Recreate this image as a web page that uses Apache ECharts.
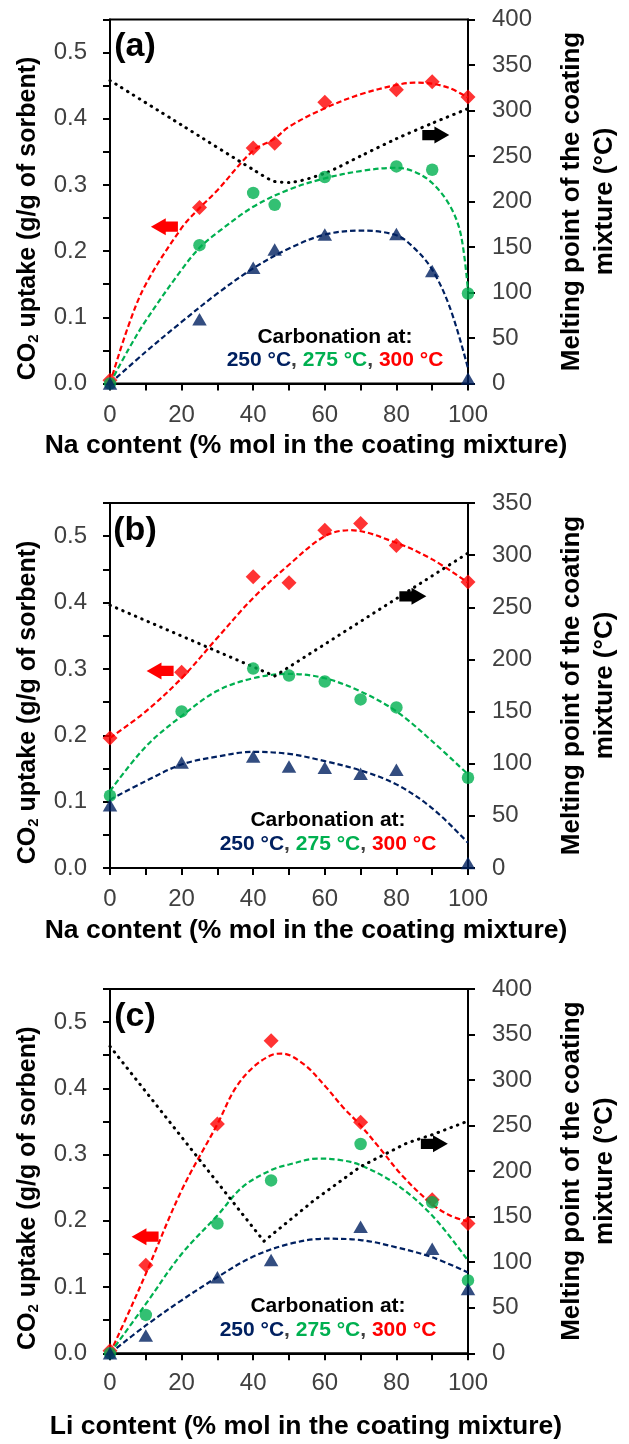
<!DOCTYPE html>
<html>
<head>
<meta charset="utf-8">
<script src="https://cdn.jsdelivr.net/npm/echarts@6/dist/echarts.min.js"></script>
<style>
html,body{margin:0;padding:0;background:#fff;}
#chart{width:629px;height:1444px;}
</style>
</head>
<body>
<div id="chart"></div>
<script>
// ---------- data ----------
// Panel (a): K–Na mixture
const xA = [0, 25, 40, 46, 60, 80, 90, 100];
const a300 = [0.005, 0.266, 0.356, 0.363, 0.425, 0.444, 0.456, 0.433];
const a275 = [0.0, 0.209, 0.288, 0.270, 0.312, 0.328, 0.323, 0.136];
const a250 = [0.0, 0.097, 0.175, 0.2025, 0.225, 0.226, 0.170, 0.0076];
const trA300x = [0, 5, 10, 20, 25, 30, 40, 46, 50, 60, 70, 80, 85, 90, 95, 100];
const trA300 = [0.0, 0.085, 0.150, 0.235, 0.265, 0.292, 0.352, 0.370, 0.388, 0.416, 0.437, 0.451, 0.4545, 0.453, 0.446, 0.432];
const trA275x = [0, 5, 10, 20, 25, 30, 40, 50, 60, 70, 80, 85, 90, 95, 98, 100];
const trA275 = [0.0, 0.05, 0.095, 0.172, 0.205, 0.228, 0.267, 0.293, 0.310, 0.321, 0.326, 0.320, 0.303, 0.268, 0.225, 0.14];
const trA250x = [0, 10, 20, 30, 40, 50, 60, 70, 80, 85, 90, 95, 100];
const trA250 = [0.0, 0.048, 0.093, 0.136, 0.174, 0.204, 0.225, 0.231, 0.224, 0.2045, 0.172, 0.114, 0.023];
const mpAx = [0, 20, 40, 46, 50, 60, 70, 80, 90, 100];
const mpA = [333, 284, 235, 222, 221, 231, 250, 269, 286, 302];

// Panel (b): Li–Na mixture
const xB = [0, 20, 40, 50, 60, 70, 80, 100];
const b300 = [0.196, 0.295, 0.439, 0.430, 0.509, 0.519, 0.486, 0.431];
const b275 = [0.109, 0.236, 0.3005, 0.290, 0.281, 0.254, 0.242, 0.136];
const b250 = [0.0945, 0.159, 0.168, 0.153, 0.151, 0.142, 0.148, 0.0075];
const trB300x = [0, 10, 20, 30, 40, 50, 60, 67, 80, 90, 100];
const trB300 = [0.196, 0.236, 0.286, 0.347, 0.407, 0.457, 0.500, 0.509, 0.490, 0.465, 0.430];
const trB275x = [0, 10, 20, 30, 40, 50, 60, 70, 80, 90, 100];
const trB275 = [0.116, 0.183, 0.229, 0.267, 0.286, 0.2925, 0.286, 0.266, 0.236, 0.191, 0.141];
const trB250x = [0, 10, 20, 30, 40, 50, 60, 70, 80, 90, 100];
const trB250 = [0.103, 0.131, 0.156, 0.168, 0.175, 0.172, 0.161, 0.147, 0.126, 0.090, 0.038];
const mpBx = [0, 46, 100];
const mpB = [252, 184, 302];

// Panel (c): K–Li mixture
const xC = [0, 10, 30, 45, 70, 90, 100];
const c300 = [0.004, 0.133, 0.346, 0.472, 0.349, 0.232, 0.196];
const c275 = [0.0, 0.058, 0.196, 0.261, 0.316, 0.228, 0.110];
const c250 = [0.0, 0.027, 0.115, 0.141, 0.191, 0.158, 0.097];
const trC300x = [0, 5, 10, 20, 30, 35, 40, 45, 48, 54, 60, 65, 70, 75, 82, 90, 95, 100];
const trC300 = [0.0, 0.059, 0.120, 0.246, 0.346, 0.400, 0.432, 0.450, 0.4525, 0.437, 0.404, 0.372, 0.344, 0.312, 0.266, 0.225, 0.208, 0.199];
const trC275x = [0, 10, 20, 30, 37, 45, 50, 58, 64, 70, 80, 90, 100];
const trC275 = [0.0, 0.0745, 0.150, 0.208, 0.251, 0.2765, 0.285, 0.294, 0.292, 0.284, 0.255, 0.208, 0.140];
const trC250x = [0, 10, 20, 30, 40, 50, 60, 70, 80, 90, 100];
const trC250 = [0.0, 0.042, 0.080, 0.115, 0.146, 0.165, 0.173, 0.171, 0.160, 0.145, 0.122];
const mpCx = [0, 43, 57, 70, 83, 90, 100];
const mpC = [337, 123, 168, 205, 231, 240, 255];

// arrows (annotation positions in data units)
const arrowsLeft = [[15.2, 0.237], [14.0, 0.297], [9.8, 0.176]];
const arrowsRight = [[91, 273], [84.6, 260.5], [90.6, 230]];

const xTitles = ['Na content (% mol in the coating mixture)', 'Na content (% mol in the coating mixture)', 'Li content (% mol in the coating mixture)'];
const rightMax = [400, 350, 400];
const panelLabels = ['(a)', '(b)', '(c)'];

// ---------- styling / layout ----------
const FONT = '"Liberation Sans", Arial, Helvetica, sans-serif';
const RED = '#FF0000', GREEN = '#00B050', NAVY = '#002060';
const grids = [
  {left: 110, top: 19.5, width: 379.5, height: 364},
  {left: 110, top: 503, width: 381.7, height: 365},
  {left: 110, top: 989, width: 381.7, height: 364.3}
];
const xNameGap = [49, 49, 60];
const xLabelMargin = [20, 19, 18];
const mpSmooth = [0.25, false, false];

const ARROW_L = 'path://M0,10 L11,0 L11,4 L20,4 L20,16 L11,16 L11,20 Z';
const ARROW_R = 'path://M20,10 L9,0 L9,4 L0,4 L0,16 L9,16 L9,20 Z';

const zip = (xs, ys) => xs.map((x, i) => [x, ys[i]]);

const xAxes = [], yAxes = [], series = [], gridOpts = [];
const panels = [
  {x: xA, r: a300, g: a275, b: a250, tr: [trA300x, trA300], tg: [trA275x, trA275], tb: [trA250x, trA250], mp: [mpAx, mpA]},
  {x: xB, r: b300, g: b275, b: b250, tr: [trB300x, trB300], tg: [trB275x, trB275], tb: [trB250x, trB250], mp: [mpBx, mpB]},
  {x: xC, r: c300, g: c275, b: c250, tr: [trC300x, trC300], tg: [trC275x, trC275], tb: [trC250x, trC250], mp: [mpCx, mpC]}
];

const axisLine = {show: true, onZero: false, lineStyle: {color: '#000', width: 2}};
const axisTick = {show: true, inside: false, length: 7, lineStyle: {color: '#000', width: 2}};
const tickFont = {fontSize: 24, color: '#404040', fontFamily: FONT};

panels.forEach((p, gi) => {
  gridOpts.push(Object.assign({show: true, borderColor: '#000', borderWidth: 2, backgroundColor: 'transparent'}, grids[gi]));
  xAxes.push({
    type: 'value', gridIndex: gi, min: 0, max: 100, interval: 10,
    axisLine, axisTick, splitLine: {show: false},
    axisLabel: Object.assign({margin: xLabelMargin[gi], formatter: v => (v % 20 === 0 ? String(v) : '')}, tickFont),
    name: xTitles[gi], nameLocation: 'middle', nameGap: xNameGap[gi],
    nameTextStyle: {fontSize: 26.5, fontWeight: 'bold', color: '#000', fontFamily: FONT, padding: [0, 0, 0, 34]}
  });
  yAxes.push({
    type: 'value', gridIndex: gi, position: 'left', min: 0, max: 0.55, interval: 0.05,
    axisLine, axisTick, splitLine: {show: false},
    axisLabel: Object.assign({margin: 23, formatter: v => (Math.round(v * 100) % 10 === 0 ? v.toFixed(1) : '')}, tickFont),
    name: 'CO{sub|2} uptake (g/g of sorbent)', nameLocation: 'middle', nameGap: 69, nameRotate: 90,
    nameTextStyle: {
      fontSize: 25, fontWeight: 'bold', color: '#000', fontFamily: FONT, padding: [0, 34, 0, 0],
      rich: {sub: {fontSize: 15, fontWeight: 'bold', color: '#000', fontFamily: FONT, verticalAlign: 'bottom', lineHeight: 22}}
    }
  });
  yAxes.push({
    type: 'value', gridIndex: gi, position: 'right', min: 0, max: rightMax[gi], interval: 50,
    axisLine, axisTick, splitLine: {show: false},
    axisLabel: Object.assign({margin: 24}, tickFont),
    name: 'Melting point of the coating\nmixture (°C)', nameLocation: 'middle', nameGap: 87, nameRotate: 90,
    nameTextStyle: {fontSize: 26, fontWeight: 'bold', color: '#000', fontFamily: FONT, lineHeight: 33, align: 'center'}
  });

  const trend = (d, color) => ({
    type: 'line', xAxisIndex: gi, yAxisIndex: gi * 2, data: zip(d[0], d[1]),
    smooth: 0.35, showSymbol: false, silent: true, z: 2,
    lineStyle: {color, width: 2.2, type: [5.5, 3]}
  });
  series.push(trend(p.tr, RED), trend(p.tg, GREEN), trend(p.tb, NAVY));
  series.push({
    type: 'line', xAxisIndex: gi, yAxisIndex: gi * 2 + 1, data: zip(p.mp[0], p.mp[1]),
    smooth: mpSmooth[gi], showSymbol: false, silent: true, z: 2,
    lineStyle: {color: '#000', width: 3, type: [0.5, 6.4], cap: 'round'},
    markPoint: {
      symbol: ARROW_R, symbolSize: [27, 17], silent: true,
      itemStyle: {color: '#000'}, label: {show: false},
      data: [{coord: arrowsRight[gi]}]
    }
  });
  series.push({
    type: 'scatter', xAxisIndex: gi, yAxisIndex: gi * 2, data: zip(p.x, p.r),
    symbol: 'diamond', symbolSize: 15, itemStyle: {color: RED}, z: 3,
    markPoint: {
      symbol: ARROW_L, symbolSize: [27, 17], silent: true,
      itemStyle: {color: RED}, label: {show: false},
      data: [{coord: arrowsLeft[gi]}]
    }
  });
  series.push({
    type: 'scatter', xAxisIndex: gi, yAxisIndex: gi * 2, data: zip(p.x, p.g),
    symbol: 'circle', symbolSize: 12.5, itemStyle: {color: GREEN}, z: 4
  });
  series.push({
    type: 'scatter', xAxisIndex: gi, yAxisIndex: gi * 2, data: zip(p.x, p.b),
    symbol: 'triangle', symbolSize: [14.5, 12.5], itemStyle: {color: NAVY}, z: 5
  });
});

// legend-like annotations and panel letters
const legendPos = [[335, 337, 360.5], [328, 820.5, 844], [328, 1306.5, 1330.5]];
const labelPos = [[135, 47], [135, 531], [135, 1017]];
const graphics = [];
legendPos.forEach((lp) => {
  graphics.push({
    type: 'text', x: lp[0], y: lp[1], silent: true,
    style: {text: 'Carbonation at:', fill: '#000', font: 'bold 21px ' + FONT, align: 'center', verticalAlign: 'middle'}
  });
  graphics.push({
    type: 'text', x: lp[0], y: lp[2], silent: true,
    style: {
      text: '{n|250 °C}{c|, }{g|275 °C}{c|, }{r|300 °C}',
      align: 'center', verticalAlign: 'middle', font: 'bold 21px ' + FONT,
      rich: {
        n: {fill: NAVY, font: 'bold 21px ' + FONT},
        g: {fill: GREEN, font: 'bold 21px ' + FONT},
        r: {fill: RED, font: 'bold 21px ' + FONT},
        c: {fill: '#404040', font: 'bold 21px ' + FONT}
      }
    }
  });
});
labelPos.forEach((lp, i) => {
  graphics.push({
    type: 'text', x: lp[0], y: lp[1], silent: true,
    style: {text: panelLabels[i], fill: '#000', font: 'bold 34px ' + FONT, align: 'center', verticalAlign: 'middle'}
  });
});

const chart = echarts.init(document.getElementById('chart'), null, {renderer: 'canvas'});
chart.setOption({
  animation: false,
  backgroundColor: '#fff',
  textStyle: {fontFamily: FONT},
  grid: gridOpts,
  xAxis: xAxes,
  yAxis: yAxes,
  series,
  graphic: graphics
});
</script>
</body>
</html>
